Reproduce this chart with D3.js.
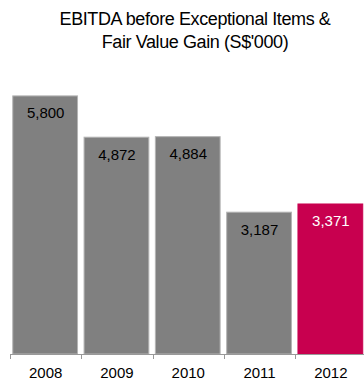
<!DOCTYPE html>
<html>
  <head>
    <script type="text/javascript" src="https://cdn.jsdelivr.net/npm/d3@7"></script>
    <style>
      body { margin: 0; background: #fff; }
      text { font-family: "Liberation Sans", Arial, sans-serif; }
    </style>
  </head>
  <body>
    <script type="text/javascript">
    // chart data
    var years = ["2008", "2009", "2010", "2011", "2012"];
    var values = [5800, 4872, 4884, 3187, 3371];
    var valueLabels = ["5,800", "4,872", "4,884", "3,187", "3,371"];
    var titleLines = ["EBITDA before Exceptional Items &", "Fair Value Gain (S$'000)"];

    var width = 364, height = 380;
    var baseY = 354;

    var svg = d3.select('body').append('svg')
                .attr('width', width)
                .attr('height', height);

    var x = d3.scaleBand()
              .domain(years)
              .range([10, 366.5])
              .paddingInner(0.1)
              .paddingOuter(0.05);

    var y = d3.scaleLinear()
              .domain([0, 6000])
              .range([baseY, 87]);

    // title
    svg.selectAll('text.title')
       .data(titleLines)
       .enter()
       .append('text')
       .attr('class', 'title')
       .attr('x', 195)
       .attr('y', function(d, i) { return 25 + i * 22.7; })
       .attr('text-anchor', 'middle')
       .style('font-size', '18px')
       .style('letter-spacing', '-0.4px')
       .style('fill', '#000')
       .text(function(d) { return d; });

    var rows = years.map(function(yr, i) {
        return {year: yr, value: values[i], label: valueLabels[i], last: i === years.length - 1};
    });

    // bars
    svg.selectAll('rect.bar')
       .data(rows)
       .enter()
       .append('rect')
       .attr('class', 'bar')
       .attr('x', function(d) { return x(d.year) - 0.8; })
       .attr('y', function(d) { return y(d.value); })
       .attr('width', x.bandwidth() + 0.6)
       .attr('height', function(d) { return baseY - y(d.value); })
       .style('fill', function(d) { return d.last ? '#c8004f' : '#808080'; })
       .style('stroke', function(d) { return d.last ? '#c8004f' : '#b4b4b4'; })
       .style('stroke-width', 1);

    // value labels
    svg.selectAll('text.val')
       .data(rows)
       .enter()
       .append('text')
       .attr('class', 'val')
       .attr('x', function(d) { return x(d.year) + x.bandwidth() / 2; })
       .attr('y', function(d) { return y(d.value) + 22.5; })
       .attr('text-anchor', 'middle')
       .style('font-size', '15px')
       .style('fill', function(d) { return d.last ? '#fff' : '#000'; })
       .text(function(d) { return d.label; });

    // axis line + boundary ticks
    var half = x.step() * x.paddingInner() / 2;
    var bounds = years.map(function(yr) { return x(yr) - half; });

    svg.append('line')
       .attr('x1', bounds[0])
       .attr('x2', width)
       .attr('y1', baseY + 0.5)
       .attr('y2', baseY + 0.5)
       .style('stroke', '#999')
       .style('stroke-width', 1);

    svg.selectAll('line.tick')
       .data(bounds)
       .enter()
       .append('line')
       .attr('class', 'tick')
       .attr('x1', function(d) { return Math.round(d) + 0.5; })
       .attr('x2', function(d) { return Math.round(d) + 0.5; })
       .attr('y1', baseY)
       .attr('y2', baseY + 5)
       .style('stroke', '#999')
       .style('stroke-width', 1);

    // year labels
    svg.selectAll('text.year')
       .data(years)
       .enter()
       .append('text')
       .attr('class', 'year')
       .attr('x', function(d) { return x(d) + x.bandwidth() / 2; })
       .attr('y', 377.5)
       .attr('text-anchor', 'middle')
       .style('font-size', '15px')
       .style('fill', '#000')
       .text(function(d) { return d; });
    </script>
  </body>
</html>
